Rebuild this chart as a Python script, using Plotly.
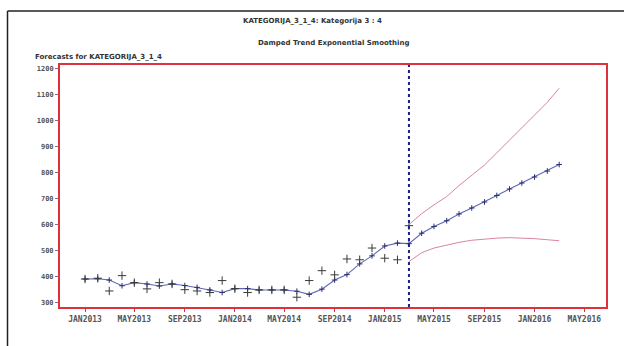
import plotly.graph_objects as go
import pandas as pd

# ---------------- data ----------------
hist_months = pd.date_range("2013-01-01", "2015-03-01", freq="MS")
actual = [391, 394, 345, 404, 377, 353, 377, 372, 350, 345, 339, 385,
          354, 339, 349, 349, 349, 321, 385, 423, 407, 468, 465, 510,
          471, 465, 596]
fitted = [391, 392, 387, 365, 377, 372, 364, 372, 366, 359, 349, 339,
          354, 354, 349, 349, 349, 344, 332, 352, 387, 408, 449, 480,
          518, 529, 527]
fc_months = pd.date_range("2015-04-01", "2016-03-01", freq="MS")
forecast = [567, 593, 615, 641, 664, 687, 712, 737, 760, 783, 806, 831]
ci_months = pd.date_range("2015-03-01", "2016-03-01", freq="MS")
upper = [600, 642, 676, 708, 750, 788, 829, 876, 924, 971, 1020, 1070, 1124]
lower = [458, 492, 510, 522, 532, 540, 545, 548, 550, 549, 546, 542, 538]

x_tickvals = ["2013-01-01", "2013-05-01", "2013-09-01", "2014-01-01", "2014-05-01",
              "2014-09-01", "2015-01-01", "2015-05-01", "2015-09-01", "2016-01-01",
              "2016-05-01"]
x_ticktext = ["JAN2013", "MAY2013", "SEP2013", "JAN2014", "MAY2014", "SEP2014",
              "JAN2015", "MAY2015", "SEP2015", "JAN2016", "MAY2016"]
y_tickvals = [300, 400, 500, 600, 700, 800, 900, 1000, 1100, 1200]
forecast_start = "2015-03-01"

title_main = "KATEGORIJA_3_1_4: Kategorija 3 : 4"
title_sub = "Damped Trend Exponential Smoothing"
title_plot = "Forecasts for KATEGORIJA_3_1_4"

# ---------------- figure ----------------
pred_x = list(hist_months) + list(fc_months)
pred_y = fitted + forecast

fig = go.Figure()
fig.add_trace(go.Scatter(x=list(ci_months), y=upper, mode="lines",
                         line=dict(color="#d9869a", width=1), hoverinfo="skip"))
fig.add_trace(go.Scatter(x=list(ci_months), y=lower, mode="lines",
                         line=dict(color="#d9869a", width=1), hoverinfo="skip"))
fig.add_trace(go.Scatter(x=pred_x, y=pred_y, mode="lines+markers",
                         line=dict(color="#6068b8", width=1.1),
                         marker=dict(symbol="cross-thin", size=4,
                                     line=dict(color="#2a2f70", width=1))))
fig.add_trace(go.Scatter(x=list(hist_months), y=actual, mode="markers",
                         marker=dict(symbol="cross-thin", size=6,
                                     line=dict(color="#3a3a3a", width=1))))

mono = "DejaVu Sans Mono"
fig.update_layout(
    width=624, height=346,
    margin=dict(l=60, r=18, t=65, b=39),
    paper_bgcolor="white", plot_bgcolor="white",
    showlegend=False,
    xaxis=dict(type="date", range=["2012-11-01", "2016-06-23"],
               tickvals=x_tickvals, ticktext=x_ticktext,
               tickfont=dict(family=mono, size=8, color="#555", weight="bold"),
               ticks="outside", ticklen=3, tickcolor="#e0303c",
               showgrid=False, zeroline=False,
               showline=True, linecolor="#e0303c", linewidth=2, mirror=True),
    yaxis=dict(range=[283.4, 1213.5], tickvals=y_tickvals,
               ticktext=[str(v) for v in y_tickvals],
               tickfont=dict(family=mono, size=7, color="#555", weight="bold"),
               ticks="outside", ticklen=3, tickcolor="#777",
               showgrid=False, zeroline=False,
               showline=True, linecolor="#e0303c", linewidth=2, mirror=True),
)

# forecast start reference line
fig.add_shape(type="line", xref="x", yref="paper", x0=forecast_start, x1=forecast_start,
              y0=0, y1=1, line=dict(color="#1c1f86", width=2, dash="dot"))

# outer black border (left and top)
fig.add_shape(type="line", xref="paper", yref="paper",
              x0=(7.5 - 60) / 546, x1=1.1, y0=(307 - 11) / 242, y1=(307 - 11) / 242,
              line=dict(color="#222", width=1.5))
fig.add_shape(type="line", xref="paper", yref="paper",
              x0=(7.5 - 60) / 546, x1=(7.5 - 60) / 546, y0=-0.3, y1=(307 - 11) / 242,
              line=dict(color="#222", width=1.5))

fig.add_annotation(text="<b>" + title_main + "</b>", xref="paper", yref="paper",
                   x=(312 - 60) / 546, y=(307 - 21) / 242, showarrow=False,
                   font=dict(family="DejaVu Sans", size=7, color="#333"),
                   xanchor="center", yanchor="middle")
fig.add_annotation(text="<b>" + title_sub + "</b>", xref="paper", yref="paper",
                   x=(333 - 60) / 546, y=(307 - 43) / 242, showarrow=False,
                   font=dict(family="DejaVu Sans", size=7, color="#333"),
                   xanchor="center", yanchor="middle")
fig.add_annotation(text="<b>" + title_plot + "</b>", xref="paper", yref="paper",
                   x=(33 - 60) / 546, y=(307 - 57) / 242, showarrow=False,
                   font=dict(family="DejaVu Sans", size=7, color="#333"),
                   xanchor="left", yanchor="middle")

fig.write_html("out.html")
